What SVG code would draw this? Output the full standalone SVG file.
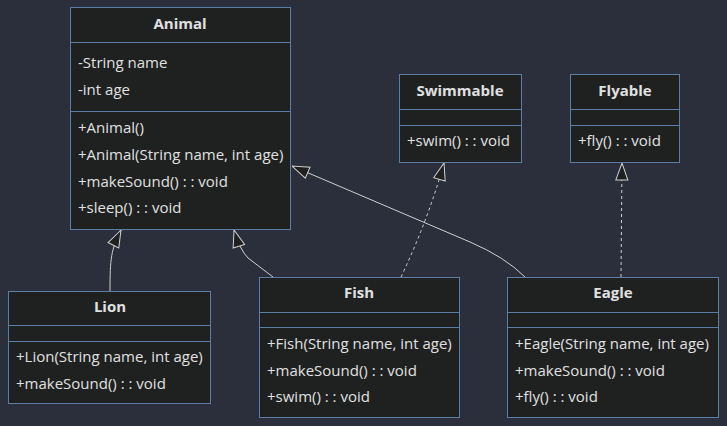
<svg xmlns="http://www.w3.org/2000/svg" width="727" height="426" viewBox="0 0 727 426">
<style>
.bg{fill:#2a2f3b}
.box{fill:#1f2020;stroke:#5b7ea5;stroke-width:1}
.div{stroke:#5b7ea5;stroke-width:1}
text{font-family:"Open Sans","Liberation Sans",sans-serif;font-size:15px;fill:#e0e0e0}
.t{font-weight:bold;text-anchor:middle}
.edge{fill:none;stroke:#d0d0d0;stroke-width:1}
.dash{stroke-dasharray:3,3}
</style>
<defs>
<marker id="tri" viewBox="0 0 18 14" refX="18" refY="7" markerWidth="18" markerHeight="14" markerUnits="userSpaceOnUse" orient="auto">
<path d="M1,1 L18,7 L1,13 Z" fill="#1f2020" stroke="#d0d0d0" stroke-width="1"/>
</marker>
</defs>
<rect class="bg" x="0" y="0" width="727" height="426"/>
<g id="connectors">
<path class="edge" d="M110,291 C110,258 111,250 121,230" marker-end="url(#tri)"/>
<path class="edge" d="M273,277 L248,258 Q240,250 234,230" marker-end="url(#tri)"/>
<path class="edge" d="M525,277 Q505,257 470,242 L292,166" marker-end="url(#tri)"/>
<path class="edge dash" d="M401,277 Q428,220 444,163" marker-end="url(#tri)"/>
<path class="edge dash" d="M621,277 L622,163" marker-end="url(#tri)"/>
</g>
<g id="Animal">
<rect class="box" x="70.5" y="7.5" width="220" height="222"/>
<line class="div" x1="70.5" y1="42.5" x2="290.5" y2="42.5"/>
<line class="div" x1="70.5" y1="111.5" x2="290.5" y2="111.5"/>
<text class="t" x="180" y="29">Animal</text>
<text x="78" y="68">-String name</text>
<text x="78" y="95">-int age</text>
<text x="78" y="133">+Animal()</text>
<text x="78" y="160">+Animal(String name, int age)</text>
<text x="78" y="187">+makeSound() : : void</text>
<text x="78" y="213">+sleep() : : void</text>
</g>
<g id="Swimmable">
<rect class="box" x="399.5" y="74.5" width="122" height="88"/>
<line class="div" x1="399.5" y1="109.5" x2="521.5" y2="109.5"/>
<line class="div" x1="399.5" y1="125.5" x2="521.5" y2="125.5"/>
<text class="t" x="460" y="96">Swimmable</text>
<text x="407" y="146">+swim() : : void</text>
</g>
<g id="Flyable">
<rect class="box" x="570.5" y="74.5" width="109" height="88"/>
<line class="div" x1="570.5" y1="109.5" x2="679.5" y2="109.5"/>
<line class="div" x1="570.5" y1="125.5" x2="679.5" y2="125.5"/>
<text class="t" x="625" y="96">Flyable</text>
<text x="578" y="146">+fly() : : void</text>
</g>
<g id="Lion">
<rect class="box" x="8.5" y="291.5" width="202" height="112"/>
<line class="div" x1="8.5" y1="325.5" x2="210.5" y2="325.5"/>
<line class="div" x1="8.5" y1="341.5" x2="210.5" y2="341.5"/>
<text class="t" x="110" y="312">Lion</text>
<text x="16" y="362">+Lion(String name, int age)</text>
<text x="16" y="389">+makeSound() : : void</text>
</g>
<g id="Fish">
<rect class="box" x="259.5" y="277.5" width="200" height="140"/>
<line class="div" x1="259.5" y1="312.5" x2="459.5" y2="312.5"/>
<line class="div" x1="259.5" y1="327.5" x2="459.5" y2="327.5"/>
<text class="t" x="359" y="298">Fish</text>
<text x="267" y="349">+Fish(String name, int age)</text>
<text x="267" y="376">+makeSound() : : void</text>
<text x="267" y="402">+swim() : : void</text>
</g>
<g id="Eagle">
<rect class="box" x="507.5" y="277.5" width="211" height="140"/>
<line class="div" x1="507.5" y1="312.5" x2="718.5" y2="312.5"/>
<line class="div" x1="507.5" y1="327.5" x2="718.5" y2="327.5"/>
<text class="t" x="613" y="298">Eagle</text>
<text x="515" y="349">+Eagle(String name, int age)</text>
<text x="515" y="376">+makeSound() : : void</text>
<text x="515" y="402">+fly() : : void</text>
</g>
</svg>
